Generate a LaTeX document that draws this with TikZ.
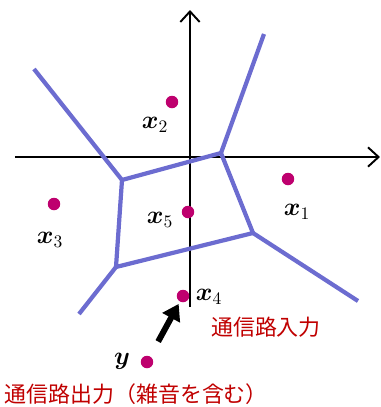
\documentclass[tikz,border=0pt]{standalone}
\usepackage{amsmath,amssymb,bm}
\usepackage{fontspec}
\newfontfamily\jpfont{Noto Sans CJK JP}
\usetikzlibrary{calc,arrows.meta}

\definecolor{cellblue}{RGB}{108,108,208}
\definecolor{ptmag}{RGB}{190,0,110}
\definecolor{txtred}{RGB}{192,0,0}

\tikzset{
  pt/.style={circle,fill=ptmag,inner sep=0pt,minimum size=0.25cm},
  edge/.style={cellblue,line width=2.4pt,line join=round},
  axis/.style={line width=1.1pt,-{Straight Barb[length=6pt,width=11pt,line width=1.1pt]}},
  lbl/.style={font=\fontsize{14}{16}\selectfont},
  jp/.style={txtred,font=\jpfont\fontsize{12.5}{15}\selectfont,inner sep=0pt}
}

\begin{document}
\begin{tikzpicture}[x=0.02cm,y=-0.02cm]
    \useasboundingbox (0,0) rectangle (381,407);

    % axes
    \coordinate (O) at (190,157);
    \draw[axis] (15,157) -- (380,157);
    \draw[axis] (190,307) -- (190,10);

    % cell borders
    \coordinate (A) at (122,180);
    \coordinate (B) at (221,153);
    \coordinate (C) at (253,233);
    \coordinate (D) at (116,267);

    \draw[edge] (A) -- (B) -- (C) -- (D) -- cycle;
    \draw[edge] (A) -- (34,69);
    \draw[edge] (B) -- (264,34);
    \draw[edge] (C) -- (358,301);
    \draw[edge] (D) -- (79,314);

    % code words
    \node[pt] (x1) at (288,179) {};
    \node[pt] (x2) at (172,102) {};
    \node[pt] (x3) at (54,204) {};
    \node[pt] (x4) at (183,296) {};
    \node[pt] (x5) at (188,212) {};
    \node[pt] (y) at (147,362) {};

    \node[lbl] (l1) at (297,212) {$\bm{x}_1$};
    \node[lbl] (l2) at (155,125) {$\bm{x}_2$};
    \node[lbl] (l3) at (50,240) {$\bm{x}_3$};
    \node[lbl] (l4) at (209,297) {$\bm{x}_4$};
    \node[lbl] (l5) at (160,220) {$\bm{x}_5$};
    \node[lbl] (ly) at (122,361) {$\bm{y}$};

    \draw[line width=3.4pt,-{Triangle[length=9pt,width=11pt]}]
        ($(y.center)!0.31!(x4.center)$) -- ($(x4.center)!0.12!(y.center)$);

    \node[jp] (in) at (266,327) {通信路入力};
    \node[jp,anchor=west] (out) at (4,394) {通信路出力（雑音を含む）};
\end{tikzpicture}
\end{document}
